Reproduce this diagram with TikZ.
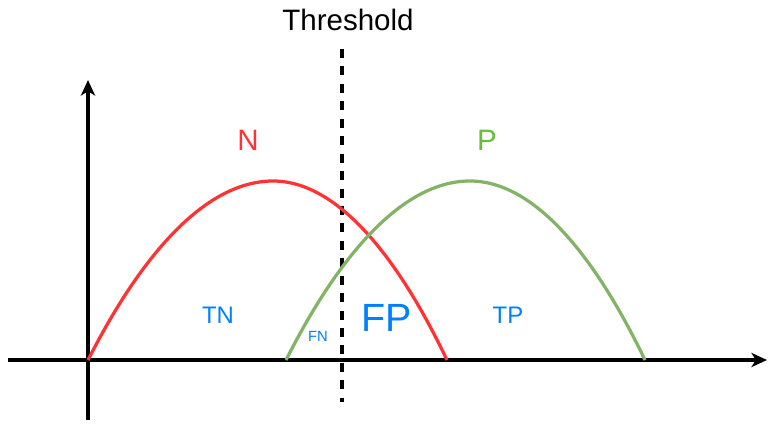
\documentclass[tikz,border=0pt]{standalone}
\usepackage{fontspec}
\setmainfont{Liberation Sans}
\usepackage{tikz}
\usetikzlibrary{arrows.meta}
\definecolor{nred}{RGB}{255,51,51}
\definecolor{pgreen}{RGB}{130,179,102}
\definecolor{ptext}{RGB}{102,190,60}
\definecolor{cblue}{RGB}{0,127,255}
\begin{document}
\begin{tikzpicture}[x=0.025cm,y=-0.025cm,
  axis/.style={line width=2.4pt,-{Stealth[length=11pt,width=10pt,inset=3pt]}},
  curve/.style={line width=2.3pt},
  lbl/.style={inner sep=0pt,font=\fontsize{#1}{#1}\selectfont}]
\useasboundingbox (0,0) rectangle (778,430);
% axes
\coordinate (xs) at (8,360);
\coordinate (xe) at (767,360);
\coordinate (ys) at (88,420);
\coordinate (ye) at (88,80);
\draw[axis] (xs) -- (xe);
\draw[axis] (ys) -- (ye);
% threshold
\node[lbl=21pt] (thr) at (348,20) {Threshold};
\coordinate (ttop) at (342,49);
\coordinate (tbot) at (342,402);
\draw[line width=2.4pt,dash pattern=on 6.4pt off 6pt] (ttop) -- (tbot);
% curves
\coordinate (n0) at (88,360);
\coordinate (n1) at (273,181);
\coordinate (n2) at (447,360);
\coordinate (p0) at (286,360);
\coordinate (p1) at (470,181);
\coordinate (p2) at (645,360);
\draw[curve,nred] (n0) parabola bend (n1) (n2);
\draw[curve,pgreen] (p0) parabola bend (p1) (p2);
% labels
\node[lbl=21pt,text=nred] (nlab) at (248,140) {N};
\node[lbl=21pt,text=ptext] (plab) at (487,140) {P};
\node[lbl=17pt,text=cblue] (tn) at (218,315) {TN};
\node[lbl=17pt,text=cblue] (tp) at (508,315) {TP};
\node[lbl=10.5pt,text=cblue] (fn) at (318,336) {FN};
\node[lbl=28pt,text=cblue] (fp) at (387,318) {FP};
\end{tikzpicture}
\end{document}
